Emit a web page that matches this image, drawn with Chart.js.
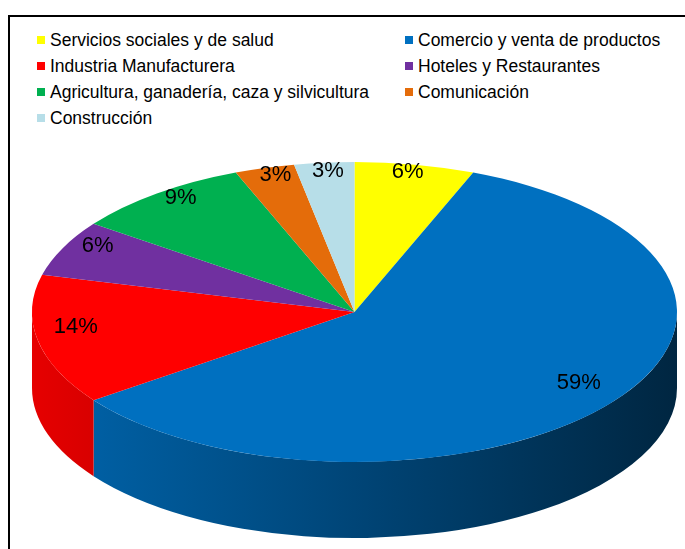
<!DOCTYPE html>
<html>
<head>
<meta charset="utf-8">
<script src="https://cdn.jsdelivr.net/npm/chart.js@4"></script>
<style>
    html, body { margin: 0; padding: 0; background: #fff; }
    body { width: 685px; height: 549px; position: relative; overflow: hidden; font-family: "Liberation Sans", Arial, sans-serif; }
    #frame { position: absolute; left: 8px; top: 15px; width: 700px; height: 600px; border-left: 2px solid #000; border-top: 2px solid #000; }
    #legend { position: absolute; left: 37px; top: 27px; display: grid; grid-template-columns: 368px auto; font-size: 17.5px; line-height: 26px; color: #000; }
    .item { display: flex; align-items: center; white-space: nowrap; }
    .box { width: 8px; height: 8px; margin-right: 5px; }
    canvas { position: absolute; left: 0; top: 0; }
</style>
</head>
<body>
<div id="frame"></div>
<div id="legend"></div>
<canvas id="pie" width="685" height="549"></canvas>
<script>
const sectors = ['Servicios sociales y de salud', 'Comercio y venta de productos', 'Industria Manufacturera',
    'Hoteles y Restaurantes', 'Agricultura, ganadería, caza y silvicultura', 'Comunicación', 'Construcción'];
const shares = [6, 59, 14, 6, 9, 3, 3];
const sliceColors = ['#FFFF00', '#0070C0', '#FF0000', '#7030A0', '#00B050', '#E46C0A', '#B7DEE8'];

function shade(color, f) {
    const n = parseInt(color.slice(1), 16);
    const r = Math.round(((n >> 16) & 255) * f);
    const g = Math.round(((n >> 8) & 255) * f);
    const b = Math.round((n & 255) * f);
    return `rgb(${r},${g},${b})`;
}

// legend, two columns like the original
const legendEl = document.getElementById('legend');
sectors.forEach((name, i) => {
    const item = document.createElement('div');
    item.className = 'item';
    item.innerHTML = `<span class="box" style="background:${sliceColors[i]}"></span><span>${name}</span>`;
    legendEl.appendChild(item);
});

// squashes the pie into an ellipse and adds the side wall
const pie3d = {
    id: 'pie3d',
    beforeDatasetsDraw(chart, args, opts) {
        const ctx = chart.ctx;
        const arcs = chart.getDatasetMeta(0).data;
        ctx.save();
        arcs.forEach((arc) => {
            const {x, y, startAngle, endAngle, outerRadius} = arc.getProps(['x', 'y', 'startAngle', 'endAngle', 'outerRadius'], true);
            const rx = outerRadius, ry = outerRadius * opts.tilt;
            const base = arc.options.backgroundColor;
            for (let k = 0; k <= 1; k++) {
                const a0 = Math.max(startAngle, k * 2 * Math.PI);
                const a1 = Math.min(endAngle, k * 2 * Math.PI + Math.PI);
                if (a1 <= a0) continue;
                const grad = ctx.createLinearGradient(x - rx, 0, x + rx, 0);
                grad.addColorStop(0, shade(base, 0.9));
                grad.addColorStop(0.5, shade(base, 0.62));
                grad.addColorStop(1, shade(base, 0.34));
                ctx.beginPath();
                ctx.ellipse(x, y, rx, ry, 0, a0, a1);
                ctx.ellipse(x, y + opts.depth, rx, ry, 0, a1, a0, true);
                ctx.closePath();
                ctx.fillStyle = grad;
                ctx.fill();
            }
        });
        ctx.restore();

        const c = arcs[0];
        ctx.save();
        ctx.translate(c.x, c.y);
        ctx.scale(1, opts.tilt);
        ctx.translate(-c.x, -c.y);
    },
    afterDatasetsDraw(chart, args, opts) {
        const ctx = chart.ctx;
        ctx.restore();
        const arcs = chart.getDatasetMeta(0).data;
        ctx.save();
        ctx.font = '22px "Liberation Sans", Arial, sans-serif';
        ctx.fillStyle = '#000';
        ctx.textAlign = 'center';
        ctx.textBaseline = 'middle';
        arcs.forEach((arc, i) => {
            const {x, y, startAngle, endAngle, outerRadius} = arc.getProps(['x', 'y', 'startAngle', 'endAngle', 'outerRadius'], true);
            const mid = (startAngle + endAngle) / 2;
            const r = outerRadius * opts.labelPos;
            ctx.fillText(shares[i] + '%', x + r * Math.cos(mid), y + r * opts.tilt * Math.sin(mid) - opts.labelLift);
        });
        ctx.restore();
    }
};

new Chart(document.getElementById('pie'), {
    type: 'pie',
    data: {
        labels: sectors,
        datasets: [{
            data: shares,
            backgroundColor: sliceColors,
            borderWidth: 0,
            clip: false
        }]
    },
    options: {
        responsive: false,
        animation: false,
        events: [],
        radius: 322.5,
        layout: {
            padding: { left: 32, right: 8, top: 75, bottom: 0 }
        },
        plugins: {
            legend: { display: false },
            tooltip: { enabled: false },
            pie3d: { tilt: 150 / 322.5, depth: 76, labelPos: 0.88, labelLift: 10 }
        }
    },
    plugins: [pie3d]
});
</script>
</body>
</html>
